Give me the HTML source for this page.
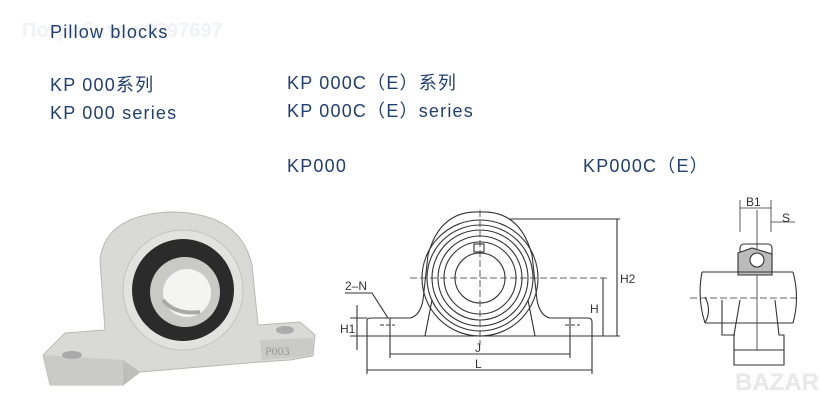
<!DOCTYPE html>
<html><head><meta charset="utf-8"><style>
html,body{margin:0;padding:0;background:#fff;width:819px;height:403px;overflow:hidden}
svg{display:block}
.t{font-family:"Liberation Sans","Noto Sans CJK SC",sans-serif;fill:#1f3f72;font-size:18px;letter-spacing:1.2px}
.d{font-family:"Liberation Sans",sans-serif;fill:#333;font-size:12px}
</style></head><body>
<svg width="819" height="403" viewBox="0 0 819 403" xmlns="http://www.w3.org/2000/svg">
<text x="22" y="37" font-family="Liberation Sans,sans-serif" font-size="20" font-weight="bold" fill="#f1f2f5">Потребител 2297697</text>
<text x="50" y="38" class="t" font-size="15" letter-spacing="1.5">Pillow blocks</text>
<text x="50" y="91" class="t">KP 000系列</text>
<text x="50" y="119" class="t">KP 000 series</text>
<text x="287" y="89" class="t">KP 000C（E）系列</text>
<text x="287" y="117" class="t">KP 000C（E）series</text>
<text x="287" y="172" class="t">KP000</text>
<text x="583" y="172" class="t">KP000C（E）</text>

<!-- photo -->
<g>
<path d="M43 355 L65 333 L105 330 L100 260 Q105 215 170 212 Q240 212 252 265 L258 325 L300 322 L315 335 L313 356 L290 360 L260 362 L140 372 L123 385 L50 385 Z" fill="#d9d9d6" stroke="#b8b8b4"/>
<path d="M43 355 L123 360 L123 385 L50 385 Z" fill="#cacac7"/>
<path d="M123 360 L140 372 L123 385 Z" fill="#bdbdba"/>
<path d="M260 340 L313 338 L313 356 L262 360 Z" fill="#cacac7"/>
<text x="265" y="355" font-family="Liberation Serif,serif" font-size="12" fill="#999">P003</text>
<ellipse cx="72" cy="355" rx="10" ry="4" fill="#aaa"/>
<ellipse cx="285" cy="330" rx="9" ry="4" fill="#aaa"/>
<circle cx="183" cy="290" r="60" fill="#e2e2df" stroke="#c2c2be"/>
<circle cx="183" cy="290" r="51" fill="#2b2b2b"/>
<circle cx="185" cy="292" r="35" fill="#c9c9c6"/>
<circle cx="187" cy="293" r="24" fill="#f4f4f3"/>
<path d="M163 300 Q175 315 200 312" stroke="#a9a9a6" stroke-width="4" fill="none"/>
</g>

<!-- front drawing -->
<g fill="none" stroke="#333" stroke-width="1.1">
<path d="M367 336 L367 320 Q367 318 372 318 L410 318 Q420 316 423 300 L428 255 Q440 210 480 212 Q520 210 532 255 L537 300 Q540 316 550 318 L588 318 Q592 318 592 322 L592 336 Z"/>
<circle cx="480" cy="278" r="58"/><circle cx="480" cy="278" r="53"/><circle cx="480" cy="278" r="48"/>
<circle cx="480" cy="278" r="42"/><circle cx="480" cy="278" r="36"/><circle cx="480" cy="278" r="25"/>
<rect x="474" y="244" width="10" height="8"/>
<path d="M425 336 L432 300 M535 336 L528 300"/>
<path d="M380 325 L395 325 M565 325 L580 325" stroke-dasharray="4 2"/>
<path d="M480 210 V345 M410 278 H610" stroke-dasharray="7 3" stroke-width="0.8"/>
<path d="M510 219 H620 M592 336 H620 M617 219 V336 M603 278 V336 M390 318 V358 M570 318 V358 M390 354 H570 M367 336 V374 M592 336 V374 M367 370 H592 M350 318 H367 M350 336 H367 M357 305 V350"/>
<path d="M345 293 H372 L388 318"/>
</g>
<g class="d" font-size="11">
<text x="620" y="283">H2</text><text x="590" y="313">H</text><text x="340" y="333">H1</text>
<text x="345" y="290">2–N</text><text x="475" y="352">J</text><text x="475" y="368">L</text>
</g>

<!-- side drawing -->
<g fill="none" stroke="#333" stroke-width="1.1">
<path d="M740 200 V232 M771 200 V232 M740 208 H771 M771 222 H795 M757 210 V350" stroke-width="0.8"/>
<rect x="740" y="244" width="32" height="30" rx="4"/>
<path d="M738 253 L752 248 L772 254 L772 275 L738 275 Z" fill="#bbb"/>
<circle cx="757" cy="260" r="7" fill="#fff"/>
<path d="M702 272 H793 M705 323 H793"/>
<path d="M702 272 Q697 298 705 323 M793 272 Q800 298 793 323 M705 297 Q712 310 705 323"/>
<path d="M690 298 H800" stroke-dasharray="7 3" stroke-width="0.8"/>
<path d="M722 300 V335 H735 M740 300 L734 335 M775 300 L779 335 H784 V365 H734 V335 M734 350 H784"/>
</g>
<text x="746" y="206" class="d" font-size="11">B1</text>
<text x="782" y="222" class="d" font-size="11">S</text>
<text x="735" y="390" font-family="Liberation Sans,sans-serif" font-size="24" font-weight="bold" fill="#e8e8e8">BAZAR</text>
</svg>
</body></html>
